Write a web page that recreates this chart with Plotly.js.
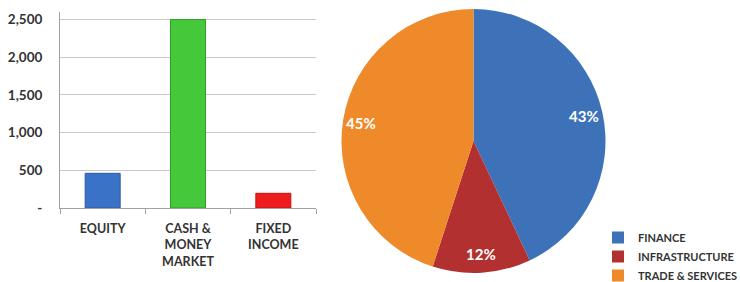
<!DOCTYPE html>
<html>
<head>
<meta charset="utf-8">
<script src="https://cdn.plot.ly/plotly-3.0.1.min.js"></script>
<style>
html,body{margin:0;padding:0;background:#fff;}
#chart{width:740px;height:282px;}
</style>
</head>
<body>
<div id="chart"></div>
<script>
// Bar chart data
var barCategories = ["EQUITY", "CASH &<br>MONEY<br>MARKET", "FIXED<br>INCOME"];
var barValues = [460, 2500, 195];
var barColors = ["#3a72c8", "#45c83a", "#ee1c1c"];
var barLineColors = ["#2c5a9e", "#34a02c", "#c01414"];
var yTickVals = [0, 500, 1000, 1500, 2000, 2500];
var yTickText = ["-", "500", "1,000", "1,500", "2,000", "2,500"];

// Pie chart data
var pieLabels = ["FINANCE", "INFRASTRUCTURE", "TRADE & SERVICES"];
var pieValues = [43, 12, 45];
var pieColors = ["#3d72b8", "#b23030", "#ee8a2a"];

var fontFam = "Lato, 'Open Sans', sans-serif";
var W = 740, H = 282;

// pie domain (layout, in pixels)
var pieLeft = 341, pieRight = 606, pieTop = 9, pieBottom = 273;
var pieCx = (pieLeft + pieRight) / 2, pieCy = (pieTop + pieBottom) / 2;
var pieR = Math.min(pieRight - pieLeft, pieBottom - pieTop) / 2;
var labelRadiusFrac = 0.86;

// percentage labels placed near the rim, derived from the pie values
var total = pieValues.reduce(function (a, b) { return a + b; }, 0);
var annotations = [];
var cum = 0;
pieValues.forEach(function (v) {
  var mid = (cum + v / 2) / total * 2 * Math.PI;
  cum += v;
  var px = pieCx + pieR * labelRadiusFrac * Math.sin(mid);
  var py = pieCy - pieR * labelRadiusFrac * Math.cos(mid);
  annotations.push({
    xref: "paper", yref: "paper",
    x: px / W, y: 1 - py / H,
    xanchor: "center", yanchor: "middle",
    text: Math.round(v / total * 100) + "%",
    showarrow: false,
    font: {family: fontFam, size: 15, color: "#ffffff", weight: "bold"}
  });
});

var traces = [
  {
    type: "bar",
    x: barCategories,
    y: barValues,
    marker: {color: barColors, line: {color: barLineColors, width: 1}},
    width: 0.41,
    showlegend: false,
    hoverinfo: "x+y",
    xaxis: "x",
    yaxis: "y"
  },
  {
    type: "pie",
    labels: pieLabels,
    values: pieValues,
    sort: false,
    direction: "clockwise",
    rotation: 0,
    marker: {colors: pieColors, line: {width: 0}},
    textinfo: "none",
    domain: {x: [pieLeft / W, pieRight / W], y: [1 - pieBottom / H, 1 - pieTop / H]},
    showlegend: true
  }
];

var layout = {
  width: W,
  height: H,
  margin: {l: 0, r: 0, t: 0, b: 0, autoexpand: false},
  paper_bgcolor: "#ffffff",
  plot_bgcolor: "#ffffff",
  font: {family: fontFam, color: "#333333"},
  annotations: annotations,
  xaxis: {
    domain: [60 / W, 316 / W],
    anchor: "y",
    type: "category",
    showline: true,
    linecolor: "#a0a0a0",
    linewidth: 1,
    ticks: "outside",
    tickson: "boundaries",
    ticklen: 5,
    tickcolor: "#a0a0a0",
    showgrid: false,
    tickfont: {family: fontFam, size: 12.5, color: "#333333", weight: "bold"},
    ticklabelstandoff: 9,
    fixedrange: true
  },
  yaxis: {
    domain: [74 / H, 270 / H],
    anchor: "x",
    range: [0, 2600],
    tickvals: yTickVals,
    ticktext: yTickText,
    showline: true,
    linecolor: "#a0a0a0",
    linewidth: 1,
    showgrid: true,
    gridcolor: "#c8c8c8",
    gridwidth: 1,
    zeroline: false,
    ticks: "",
    tickfont: {family: fontFam, size: 13.5, color: "#333333", weight: "bold"},
    ticklabelstandoff: 14,
    fixedrange: true
  },
  legend: {
    x: 598 / W,
    xanchor: "left",
    y: -8 / H,
    yanchor: "bottom",
    font: {family: fontFam, size: 11, color: "#333333", weight: "bold"},
    bgcolor: "rgba(0,0,0,0)",
    itemclick: false
  }
};

Plotly.newPlot("chart", traces, layout, {displayModeBar: false, staticPlot: true});
</script>
</body>
</html>
